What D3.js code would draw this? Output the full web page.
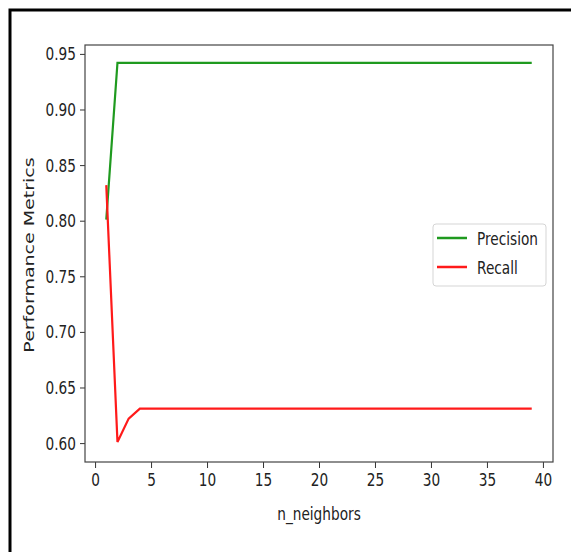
<!DOCTYPE html>
<html>
<head>
<meta charset="utf-8">
<script src="https://cdn.jsdelivr.net/npm/d3@7"></script>
<style>
  body { margin: 0; background: #fff; }
  svg text { font-family: "DejaVu Sans", sans-serif; fill: #222; }
</style>
</head>
<body>
<div id="chart"></div>
<script>
const nNeighbors = [1, 2, 3, 4, 5, 6, 7, 8, 9, 10, 11, 12, 13, 14, 15, 16, 17, 18, 19, 20,
  21, 22, 23, 24, 25, 26, 27, 28, 29, 30, 31, 32, 33, 34, 35, 36, 37, 38, 39];
const precision = [0.801, 0.942, 0.942, 0.942, 0.942, 0.942, 0.942, 0.942, 0.942, 0.942,
  0.942, 0.942, 0.942, 0.942, 0.942, 0.942, 0.942, 0.942, 0.942, 0.942,
  0.942, 0.942, 0.942, 0.942, 0.942, 0.942, 0.942, 0.942, 0.942, 0.942,
  0.942, 0.942, 0.942, 0.942, 0.942, 0.942, 0.942, 0.942, 0.942];
const recall = [0.832, 0.601, 0.622, 0.631, 0.631, 0.631, 0.631, 0.631, 0.631, 0.631,
  0.631, 0.631, 0.631, 0.631, 0.631, 0.631, 0.631, 0.631, 0.631, 0.631,
  0.631, 0.631, 0.631, 0.631, 0.631, 0.631, 0.631, 0.631, 0.631, 0.631,
  0.631, 0.631, 0.631, 0.631, 0.631, 0.631, 0.631, 0.631, 0.631];
const xTicks = [0, 5, 10, 15, 20, 25, 30, 35, 40];
const yTicks = [0.60, 0.65, 0.70, 0.75, 0.80, 0.85, 0.90, 0.95];
const seriesNames = ['Precision', 'Recall'];

const W = 571, H = 552;
const plot = { left: 85, top: 45, right: 553, bottom: 462 };
const SQ = 0.74; // the screenshot is squeezed sideways

const svg = d3.select('#chart').append('svg')
  .attr('width', W).attr('height', H);

// squeeze text horizontally while keeping its anchor point
function squeeze(sel) {
  sel.each(function() {
    const t = d3.select(this);
    const x0 = +(t.attr('x') || 0);
    t.attr('x', x0 / SQ).attr('transform', `scale(${SQ},1)`);
  });
}

// outer frame of the screenshot
svg.append('rect')
  .attr('x', 10).attr('y', 10).attr('width', 700).attr('height', 700)
  .attr('fill', 'none').attr('stroke', '#000').attr('stroke-width', 3);

const x = d3.scaleLinear().domain([-0.9, 40.9]).range([plot.left, plot.right]);
const y = d3.scaleLinear().domain([0.583, 0.958]).range([plot.bottom, plot.top]);

const xAxis = svg.append('g')
  .attr('transform', `translate(0,${plot.bottom})`)
  .call(d3.axisBottom(x).tickValues(xTicks).tickFormat(d3.format('d')).tickSize(6).tickPadding(5));
const yAxis = svg.append('g')
  .attr('transform', `translate(${plot.left},0)`)
  .call(d3.axisLeft(y).tickValues(yTicks).tickFormat(d3.format('.2f')).tickSize(5).tickPadding(4));

[xAxis, yAxis].forEach(g => {
  g.select('.domain').remove();
  g.selectAll('line').attr('stroke', '#333');
  g.selectAll('text').style('font-size', '18.5px').attr('fill', '#222').call(squeeze);
});

// spines
svg.append('rect')
  .attr('x', plot.left).attr('y', plot.top)
  .attr('width', plot.right - plot.left).attr('height', plot.bottom - plot.top)
  .attr('fill', 'none').attr('stroke', '#444').attr('stroke-width', 1.2);

const line = d3.line().x((d, i) => x(nNeighbors[i])).y(d => y(d));
const colors = ['#1f9a1f', '#ff1a1a'];

[precision, recall].forEach((s, i) => {
  svg.append('path')
    .datum(s)
    .attr('d', line)
    .attr('fill', 'none')
    .attr('stroke', colors[i])
    .attr('stroke-width', 2.2);
});

svg.append('g').attr('transform', 'translate(319,520)')
  .append('text')
  .attr('text-anchor', 'middle')
  .style('font-size', '18.5px')
  .text('n_neighbors')
  .call(squeeze);

svg.append('text')
  .attr('transform', `translate(33.5,255) scale(${SQ},1) rotate(-90)`)
  .attr('text-anchor', 'middle')
  .style('font-size', '19px')
  .attr('fill', '#333')
  .text('Performance Metrics');

// legend
const legend = svg.append('g').attr('transform', 'translate(433,224)');
legend.append('rect')
  .attr('width', 113).attr('height', 62).attr('rx', 3)
  .attr('fill', '#fff').attr('stroke', '#d5d5d5');
seriesNames.forEach((name, i) => {
  const ly = 14 + i * 29;
  legend.append('line')
    .attr('x1', 4).attr('x2', 34).attr('y1', ly).attr('y2', ly)
    .attr('stroke', colors[i]).attr('stroke-width', 2.5);
  legend.append('text')
    .attr('x', 44).attr('y', ly + 7)
    .style('font-size', '18.5px')
    .text(name)
    .call(squeeze);
});
</script>
</body>
</html>
